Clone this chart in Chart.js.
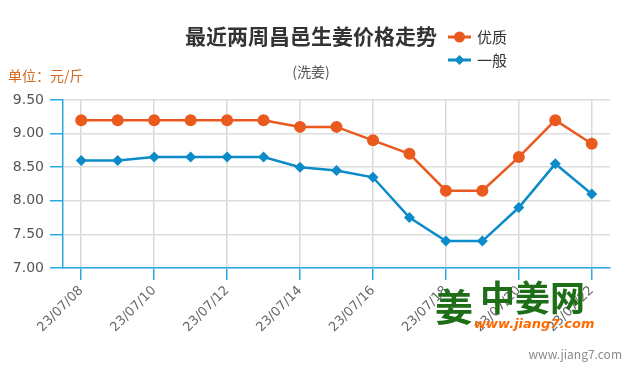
<!DOCTYPE html>
<html>
<head>
<meta charset="utf-8">
<script src="https://cdn.jsdelivr.net/npm/chart.js@4"></script>
<style>
html,body{margin:0;padding:0;background:#fff;}
#wrap{width:635px;height:375px;position:relative;}
</style>
</head>
<body>
<div id="wrap"><canvas id="c" width="635" height="375"></canvas></div>
<script>
const categories = ['23/07/08','23/07/09','23/07/10','23/07/11','23/07/12','23/07/13','23/07/14','23/07/15','23/07/16','23/07/17','23/07/18','23/07/19','23/07/20','23/07/21','23/07/22'];
const premium = [9.2,9.2,9.2,9.2,9.2,9.2,9.1,9.1,8.9,8.7,8.15,8.15,8.65,9.2,8.85];
const normal = [8.6,8.6,8.65,8.65,8.65,8.65,8.5,8.45,8.35,7.75,7.4,7.4,7.9,8.55,8.1];
const seriesNames = ['优质','一般'];
const yTicks = [7.0,7.5,8.0,8.5,9.0,9.5];
const titleText = '最近两周昌邑生姜价格走势';
const subtitleText = '(洗姜)';
const unitText = '单位：元/斤';

const ORANGE = '#ea5a1f';
const BLUE = '#0b8bc8';
const AXIS = '#29abe2';
const FONT = '"Noto Sans CJK SC","Noto Sans",sans-serif';
const NUMFONT = '"DejaVu Sans",sans-serif';

const decor = {
  id: 'decor',
  afterDraw(chart) {
    const ctx = chart.ctx;
    ctx.save();
    ctx.textBaseline = 'middle';
    // title
    ctx.fillStyle = '#333';
    ctx.font = 'bold 21px ' + FONT;
    ctx.textAlign = 'center';
    ctx.fillText(titleText, 311, 36);
    // subtitle
    ctx.fillStyle = '#555';
    ctx.font = '14px ' + FONT;
    ctx.fillText(subtitleText, 311, 72);
    // unit
    ctx.textAlign = 'left';
    ctx.fillStyle = '#d2691e';
    ctx.font = '14px ' + FONT;
    ctx.fillText(unitText, 8, 76);
    // legend
    const items = [[seriesNames[0], ORANGE, 'circle', 37], [seriesNames[1], BLUE, 'rectRot', 60]];
    items.forEach(([t, col, st, y]) => {
      ctx.strokeStyle = col; ctx.lineWidth = 3;
      ctx.beginPath(); ctx.moveTo(448, y); ctx.lineTo(471, y); ctx.stroke();
      ctx.fillStyle = col;
      Chart.helpers.drawPoint(ctx, {pointStyle: st, radius: st === 'circle' ? 5.5 : 5, borderWidth: 0}, 459.5, y);
      ctx.fillStyle = '#333';
      ctx.font = '15px ' + FONT;
      ctx.fillText(t, 477, y);
    });
    // logo
    ctx.fillStyle = '#1d6e16';
    ctx.font = 'bold 38px ' + FONT;
    ctx.fillText('姜', 435, 307);
    ctx.font = 'bold 35px ' + FONT;
    ctx.fillText('中姜网', 480, 298);
    ctx.fillStyle = '#ff6a00';
    ctx.font = 'italic bold 13px "DejaVu Sans",sans-serif';
    ctx.fillText('www.jiang7.com', 474, 325);
    // watermark
    ctx.fillStyle = '#8a8a8a';
    ctx.font = '12px ' + FONT;
    ctx.textAlign = 'right';
    ctx.fillText('www.jiang7.com', 622, 354);
    ctx.restore();
  }
};

new Chart(document.getElementById('c'), {
  type: 'line',
  data: {
    labels: categories,
    datasets: [
      {label: seriesNames[0], data: premium, borderColor: ORANGE, backgroundColor: ORANGE, borderWidth: 2.5, pointStyle: 'circle', pointRadius: 6, pointHoverRadius: 6, pointBorderWidth: 0, tension: 0},
      {label: seriesNames[1], data: normal, borderColor: BLUE, backgroundColor: BLUE, borderWidth: 2.5, pointStyle: 'rectRot', pointRadius: 5.5, pointHoverRadius: 5.5, pointBorderWidth: 0, tension: 0}
    ]
  },
  options: {
    responsive: false,
    animation: false,
    layout: {padding: {top: 100, right: 25, left: 0, bottom: 0}},
    plugins: {legend: {display: false}, title: {display: false}, tooltip: {enabled: false}},
    scales: {
      x: {
        offset: true,
        border: {color: AXIS, width: 1.5},
        grid: {
          offset: false,
          drawOnChartArea: true,
          color: c => (c.index % 2 === 0 ? '#d9d9d9' : 'rgba(0,0,0,0)'),
          tickColor: c => (c.index % 2 === 0 ? AXIS : 'rgba(0,0,0,0)'),
          tickLength: 12,
          lineWidth: 1.5
        },
        ticks: {
          autoSkip: false,
          maxRotation: 45, minRotation: 45,
          padding: 3,
          color: '#666',
          font: {size: 13, family: NUMFONT},
          callback: function(v, i) { return i % 2 === 0 ? categories[i] : ''; }
        },
        afterFit: s => { s.height = 107; }
      },
      y: {
        min: 7, max: 9.5,
        afterBuildTicks: s => { s.ticks = yTicks.map(v => ({value: v})); },
        border: {color: AXIS, width: 1.5},
        grid: {color: '#dedede', tickColor: AXIS, tickLength: 13, lineWidth: 1.5},
        ticks: {
          color: '#555',
          padding: 6,
          font: {size: 14, family: NUMFONT},
          callback: v => Number(v).toFixed(2)
        },
        afterFit: s => { s.width = 63; }
      }
    }
  },
  plugins: [decor]
});
</script>
</body>
</html>
